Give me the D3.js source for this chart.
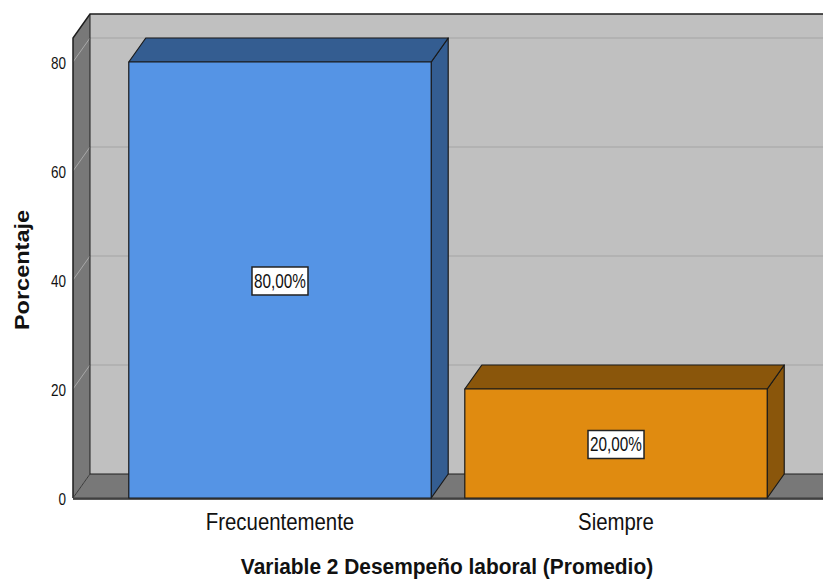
<!DOCTYPE html>
<html>
<head>
<meta charset="utf-8">
<script src="https://cdn.jsdelivr.net/npm/d3@7"></script>
<style>
  body { margin: 0; background: #fff; }
  text { font-family: Arial, "Liberation Sans", sans-serif; }
</style>
</head>
<body>
<div id="chart"></div>
<script>
const categories = ["Frecuentemente", "Siempre"];
const values = [80, 20];
const valueLabels = ["80,00%", "20,00%"];
const yTicks = [0, 20, 40, 60, 80];
const frontColors = ["#5594e5", "#e08b10"];
const darkColors = ["#345d91", "#8a560b"];

const width = 823, height = 580;
const dx = 17, dy = -24; // depth offset
const plotLeft = 73, plotRight = 823, plotBottom = 498;

const svg = d3.select("#chart").append("svg")
    .attr("width", width)
    .attr("height", height);

const y = d3.scaleLinear().domain([0, 84.4]).range([plotBottom, 38]);
const x = d3.scaleBand().domain(categories).range([plotLeft, plotRight]).paddingInner(0.1).paddingOuter(0.166);

const plotTop = y(84.4);

// text is a bit taller than wide in the original, so stretch it vertically
function tallText(parent, tx, ty, str, size, sy, anchor, weight) {
    return parent.append("text")
        .attr("transform", `translate(${tx},${ty}) scale(1,${sy})`)
        .attr("text-anchor", anchor)
        .attr("font-size", size + "px")
        .attr("font-weight", weight || "normal")
        .attr("fill", "#111")
        .text(str);
}

// back wall
svg.append("rect")
    .attr("x", plotLeft + dx).attr("y", plotTop + dy)
    .attr("width", plotRight - plotLeft).attr("height", plotBottom - plotTop)
    .attr("fill", "#c0c0c0");

// left wall
svg.append("polygon")
    .attr("points", [[plotLeft, plotTop], [plotLeft + dx, plotTop + dy], [plotLeft + dx, plotBottom + dy], [plotLeft, plotBottom]].join(" "))
    .attr("fill", "#787878");

// floor
svg.append("polygon")
    .attr("points", [[plotLeft, plotBottom], [plotLeft + dx, plotBottom + dy], [plotRight + dx, plotBottom + dy], [plotRight, plotBottom]].join(" "))
    .attr("fill", "#787878");

// gridlines
yTicks.filter(d => d > 0).forEach(t => {
    svg.append("line")
        .attr("x1", plotLeft + dx).attr("x2", plotRight + dx)
        .attr("y1", y(t) + dy).attr("y2", y(t) + dy)
        .attr("stroke", "#b2b2b2").attr("stroke-width", 2);
    svg.append("line")
        .attr("x1", plotLeft).attr("x2", plotLeft + dx)
        .attr("y1", y(t)).attr("y2", y(t) + dy)
        .attr("stroke", "#a8a8a8").attr("stroke-width", 1);
});

// frame outlines
svg.append("path")
    .attr("d", `M${plotLeft},${plotBottom} L${plotLeft},${plotTop} L${plotLeft + dx},${plotTop + dy} L${plotRight + dx},${plotTop + dy}`)
    .attr("fill", "none").attr("stroke", "#1e1e1e").attr("stroke-width", 1.5);
svg.append("path")
    .attr("d", `M${plotLeft + dx},${plotTop + dy} L${plotLeft + dx},${plotBottom + dy} L${plotRight + dx},${plotBottom + dy}`)
    .attr("fill", "none").attr("stroke", "#1e1e1e").attr("stroke-width", 1);
svg.append("path")
    .attr("d", `M${plotLeft + dx},${plotBottom + dy} L${plotLeft},${plotBottom} L${plotRight},${plotBottom}`)
    .attr("fill", "none").attr("stroke", "#3a3a3a").attr("stroke-width", 1);
svg.append("line")
    .attr("x1", plotLeft).attr("x2", plotRight)
    .attr("y1", plotBottom + 1).attr("y2", plotBottom + 1)
    .attr("stroke", "#222").attr("stroke-width", 1.5);

// bars
const bars = svg.append("g");
categories.forEach((c, i) => {
    const x0 = x(c), x1 = x(c) + x.bandwidth();
    const yt = y(values[i]);
    const g = bars.append("g")
        .attr("stroke", "#1a1a1a").attr("stroke-width", 1.2).attr("stroke-linejoin", "round");
    g.append("polygon")
        .attr("points", [[x1, yt], [x1 + dx, yt + dy], [x1 + dx, plotBottom + dy], [x1, plotBottom]].join(" "))
        .attr("fill", darkColors[i]);
    g.append("polygon")
        .attr("points", [[x0, yt], [x0 + dx, yt + dy], [x1 + dx, yt + dy], [x1, yt]].join(" "))
        .attr("fill", darkColors[i]);
    g.append("rect")
        .attr("x", x0).attr("y", yt)
        .attr("width", x1 - x0).attr("height", plotBottom - yt)
        .attr("fill", frontColors[i]);

    // value label box
    const cx = x0 + x.bandwidth() / 2, cy = y(values[i] / 2) + 1;
    const lbl = svg.append("g");
    lbl.append("rect")
        .attr("x", cx - 28).attr("y", cy - 14)
        .attr("width", 56).attr("height", 28)
        .attr("fill", "#fff").attr("stroke", "#222").attr("stroke-width", 1.5);
    tallText(lbl, cx, cy + 7, valueLabels[i], 15.3, 1.27, "middle");
});

// y axis labels
const yLab = svg.append("g");
yTicks.forEach(t => tallText(yLab, 66, y(t) + 7, t, 13.5, 1.27, "end"));

// x category labels
const xLab = svg.append("g");
categories.forEach(c => tallText(xLab, x(c) + x.bandwidth() / 2, 530, c, 20.4, 1.21, "middle"));

// axis titles
svg.append("text")
    .attr("transform", "translate(29,270) scale(1,1.12) rotate(-90)")
    .attr("text-anchor", "middle")
    .attr("font-size", "21px")
    .attr("font-weight", "bold")
    .attr("fill", "#111")
    .text("Porcentaje");

tallText(svg, 447, 574, "Variable 2 Desempeño laboral (Promedio)", 20.9, 1.08, "middle", "bold");
</script>
</body>
</html>
